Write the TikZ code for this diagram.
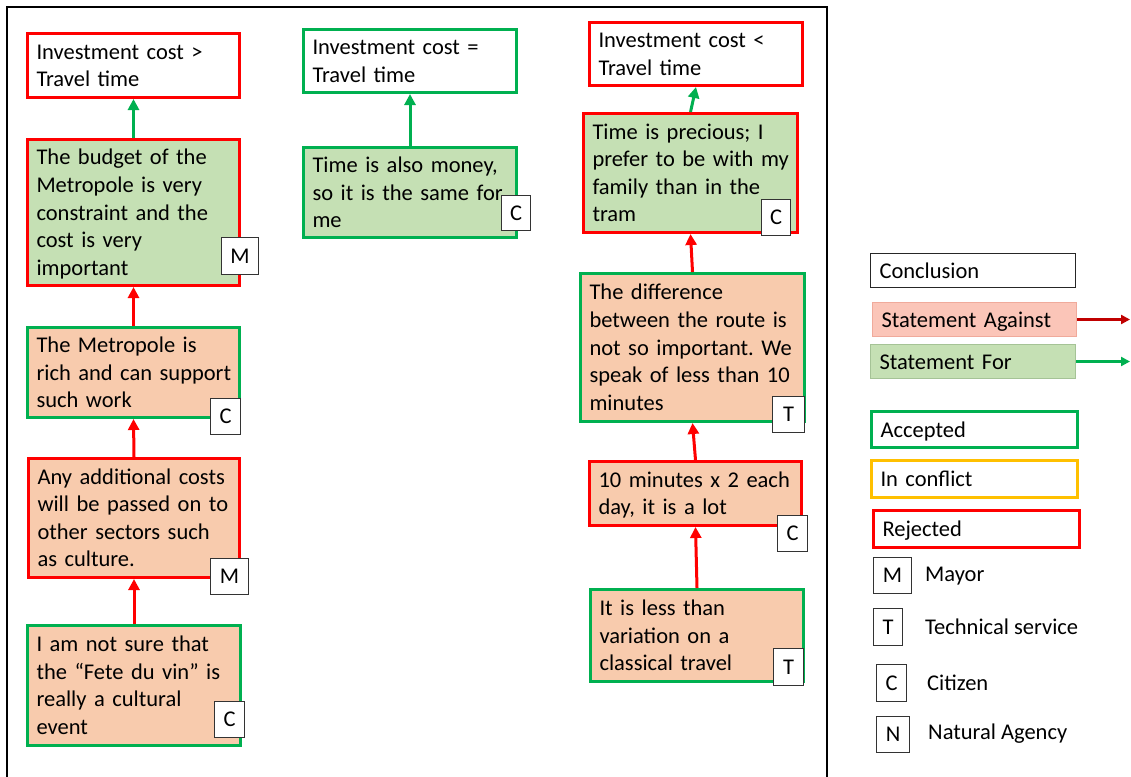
\documentclass[tikz,border=0pt]{standalone}
\usepackage{fontspec}
\setmainfont{Carlito}
\usetikzlibrary{arrows.meta}
\frenchspacing
\definecolor{accgreen}{HTML}{00B050}
\definecolor{rejred}{HTML}{FF0000}
\definecolor{confl}{HTML}{FFC000}
\definecolor{forfill}{HTML}{C5E0B4}
\definecolor{agfill}{HTML}{F8CBAD}
\definecolor{legag}{RGB}{251,197,184}
\definecolor{legagline}{RGB}{240,170,155}
\definecolor{legforline}{RGB}{165,195,150}
\definecolor{darkred}{HTML}{C00000}
\newcommand\fs{\fontsize{22.5}{27.6}\selectfont\frenchspacing}
\newcommand\argbox[7]{%
  \pgfmathsetmacro\bw{#4-#2-3}\pgfmathsetmacro\bh{#5-#3-3}\pgfmathsetmacro\tw{#4-#2-21}%
  \node[#6, minimum width=\bw pt, minimum height=\bh pt, text width=\tw pt] (#1) at ({(#2+#4)/2},{(#3+#5)/2}) {\raisebox{-2pt}[\height][\depth]{\begin{tabular}{@{}l@{}}#7\end{tabular}}};}
\newcommand\badge[6]{%
  \pgfmathsetmacro\bw{#4-#2-1.2}\pgfmathsetmacro\bh{#5-#3-1.2}%
  \node[badgebox, minimum width=\bw pt, minimum height=\bh pt] (#1) at ({(#2+#4)/2},{(#3+#5)/2}) {#6};}
\tikzset{
  base/.style={rectangle, font=\fs, align=left, inner xsep=9pt, inner ysep=0pt, line width=3pt},
  concl/.style={base, fill=white},
  forbox/.style={base, fill=forfill},
  agbox/.style={base, fill=agfill},
  acc/.style={draw=accgreen},
  rej/.style={draw=rejred},
  conf/.style={draw=confl},
  badgebox/.style={rectangle, draw=black!80, fill=white, line width=1.2pt, inner sep=0pt, font=\fs},
  forarr/.style={draw=accgreen, line width=3pt, -{Triangle[width=11pt,length=11pt]}},
  agarr/.style={draw=rejred, line width=3pt, -{Triangle[width=11pt,length=11pt]}},
  legtext/.style={font=\fs, anchor=west, inner sep=0pt},
  frame/.style={draw=black, line width=1.5pt},
}
\begin{document}
\begin{tikzpicture}[x=1pt,y=-1pt]
\useasboundingbox[fill=white] (0,0) rectangle (1131,776);
% frame
\coordinate (f1) at (7,790);
\coordinate (f2) at (7,7);
\coordinate (f3) at (827,7);
\coordinate (f4) at (827,790);
\draw[frame] (f1) -- (f2) -- (f3) -- (f4);
% left column
\argbox{L1}{26}{32}{241}{99}{concl,rej}{Investment cost >\\Travel time}
\argbox{L2}{26}{138}{241}{287}{forbox,rej}{The budget of the\\Metropole is very\\constraint and the\\cost is very\\important}
\argbox{L3}{26}{326}{241}{419}{agbox,acc}{The Metropole is\\rich and can support\\such work}
\argbox{L4}{27}{457}{241}{579}{agbox,rej}{Any additional costs\\will be passed on to\\other sectors such\\as culture.}
\argbox{L5}{26}{624}{242}{747}{agbox,acc}{I am not sure that\\the “Fete du vin” is\\really a cultural\\event}
% middle column
\argbox{M1}{302}{28}{518}{94}{concl,acc}{Investment cost =\\Travel time}
\argbox{M2}{302}{146}{518}{239}{forbox,acc}{Time is also money,\\so it is the same for\\me}
% right column
\argbox{R1}{588}{21}{804}{87}{concl,rej}{Investment cost <\\Travel time}
\argbox{R2}{582}{112}{799}{234}{forbox,rej}{Time is precious; I\\prefer to be with my\\family than in the\\tram}
\argbox{R3}{579}{272}{806}{423}{agbox,acc}{The difference\\between the route is\\not so important. We\\speak of less than 10\\minutes}
\argbox{R4}{588}{460}{803}{527}{agbox,rej}{10 minutes x 2 each\\day, it is a lot}
\argbox{R5}{589}{588}{805}{683}{agbox,acc}{It is less than\\variation on a\\classical travel}
% arrows
\draw[forarr] (L2.north) -- (L1.south);
\draw[agarr] (L3.north) -- (L2.south);
\draw[agarr] (L4.north) -- (L3.south);
\draw[agarr] (L5.north) -- (L4.south);
\draw[forarr] (M2.north) -- (M1.south);
\draw[forarr] (R2.north) -- (R1.south);
\draw[agarr] (R3.north) -- (R2.south);
\draw[agarr] (R4.north) -- (R3.south);
\draw[agarr] (R5.north) -- (R4.south);
% badges
\badge{bL2}{221}{237}{259}{275}{M}
\badge{bL3}{210}{398}{241}{435}{C}
\badge{bL4}{210}{558}{249}{595}{M}
\badge{bL5}{214}{701}{245}{738}{C}
\badge{bM2}{501}{195}{531}{231}{C}
\badge{bR2}{761}{199}{791}{236}{C}
\badge{bR3}{772}{396}{805}{433}{T}
\badge{bR4}{777}{515}{808}{552}{C}
\badge{bR5}{773}{648}{804}{686}{T}
% legend
\argbox{gConc}{869}{252}{1077}{289}{concl,draw=black!85,line width=1.2pt}{Conclusion}
\argbox{gAg}{871}{301}{1078}{338}{base,fill=legag,draw=legagline,line width=1pt}{Statement Against}
\argbox{gFor}{869}{343}{1077}{380}{base,fill=forfill,draw=legforline,line width=1pt}{Statement For}
\argbox{gAcc}{870}{410}{1079}{449}{concl,acc}{Accepted}
\argbox{gConf}{870}{459}{1079}{499}{concl,conf}{In conflict}
\argbox{gRej}{872}{509}{1081}{549}{concl,rej}{Rejected}
\coordinate (agEnd) at (1130,319.5);
\coordinate (forEnd) at (1130,361.5);
\draw[draw=darkred, line width=2.5pt, -{Triangle[width=9pt,length=9pt]}] (gAg.east) -- (agEnd);
\draw[draw=accgreen, line width=2.5pt, -{Triangle[width=9pt,length=9pt]}] (gFor.east) -- (forEnd);
\badge{kM}{873}{557}{912}{594}{M}
\badge{kT}{873}{608}{903}{646}{T}
\badge{kC}{876}{664}{907}{702}{C}
\badge{kN}{876}{716}{910}{753}{N}
\node[legtext] (tM) at (925,576) {Mayor};
\node[legtext] (tT) at (925,627) {Technical service};
\node[legtext] (tC) at (927,683) {Citizen};
\node[legtext] (tN) at (928,734) {Natural Agency};
\end{tikzpicture}
\end{document}
